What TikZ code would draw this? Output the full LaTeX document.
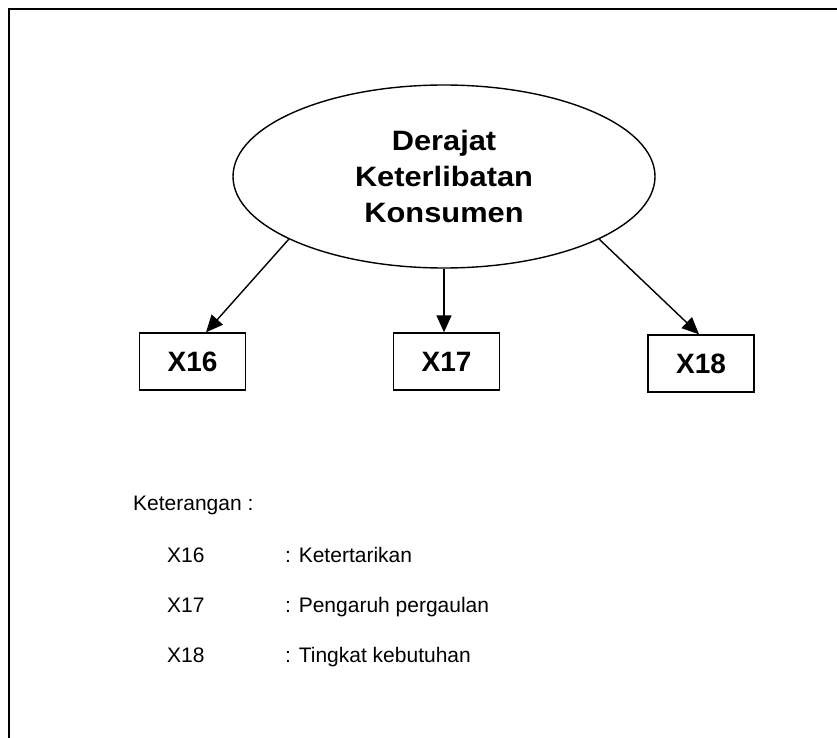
\documentclass[tikz,border=0pt]{standalone}
\usepackage{fontspec}
\setmainfont{Liberation Sans}
\newfontfamily\widefont[FakeStretch=1.1]{Liberation Sans}
\usetikzlibrary{shapes.geometric,arrows.meta}
\begin{document}
\begin{tikzpicture}[x=1pt,y=-1pt,
  lat/.style={ellipse,draw,line width=1.4pt,minimum width=422pt,minimum height=183pt,inner sep=0pt,align=center,font=\widefont\fontsize{28}{36}\selectfont\bfseries},
  ind/.style={rectangle,draw,line width=1.4pt,minimum width=106pt,minimum height=57pt,inner sep=0pt,font=\fontsize{28}{34}\selectfont\bfseries},
  arr/.style={line width=1.4pt,-{Triangle[length=17pt,width=15pt]}},
  leg/.style={anchor=base west,inner sep=0pt,font=\fontsize{21}{25}\selectfont}]
\useasboundingbox (0,0) rectangle (837,738);
\fill[white] (0,0) rectangle (837,738);
\draw[line width=2pt] (9,738) -- (9,9) -- (837,9);
\node[lat] (E) at (444,176.5) {Derajat\\Keterlibatan\\Konsumen};
\node[ind] (A) at (192.5,361.5) {X16};
\node[ind] (B) at (446.5,361.5) {X17};
\node[ind] (C) at (701,363.5) {X18};
\draw[arr] (E.202.7) -- ([xshift=13.5pt]A.north);
\draw[arr] (E.south) -- (E.south |- B.north);
\draw[arr] (E.338.5) -- ([xshift=-2pt]C.north);
\node[leg] (K) at (133,510.5) {Keterangan :};
\node[leg] (L1) at (167,562.5) {X16};
\node[leg] (L2) at (167,612.5) {X17};
\node[leg] (L3) at (167,662.5) {X18};
\node[leg] (D1) at (285,562.5) {: Ketertarikan};
\node[leg] (D2) at (285,612.5) {: Pengaruh pergaulan};
\node[leg] (D3) at (285,662.5) {: Tingkat kebutuhan};
\end{tikzpicture}
\end{document}
